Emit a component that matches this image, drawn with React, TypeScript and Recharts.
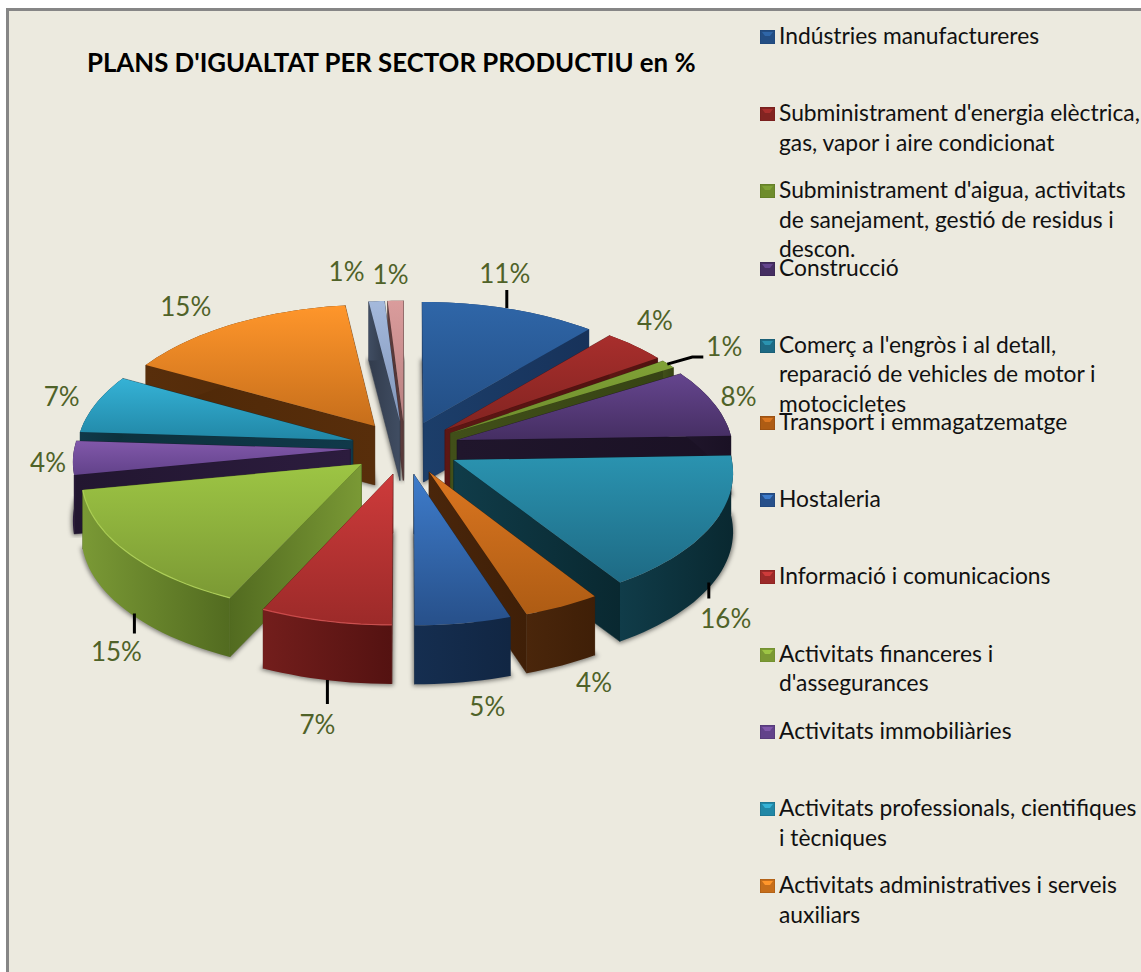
import { Legend, Pie, PieChart } from "recharts";

// ── Data ────────────────────────────────────────────────────────────────

const sectorNames = [
  "Indústries manufactureres",
  "Subministrament d'energia elèctrica, gas, vapor i aire condicionat",
  "Subministrament d'aigua, activitats de sanejament, gestió de residus i descon.",
  "Construcció",
  "Comerç a l'engròs i al detall, reparació de vehicles de motor i motocicletes",
  "Transport i emmagatzematge",
  "Hostaleria",
  "Informació i comunicacions",
  "Activitats financeres i d'assegurances",
  "Activitats immobiliàries",
  "Activitats professionals, científiques i tècniques",
  "Activitats administratives i serveis auxiliars",
  "Altres serveis",
  "Altres activitats",
];

const sectorValues = [11, 4, 1, 8, 16, 4, 5, 7, 15, 4, 7, 15, 1, 1];

// wrapped the way the legend shows them; the last two sectors have no legend row
const legendLines = [
  ["Indústries manufactureres"],
  ["Subministrament d'energia elèctrica,", "gas, vapor i aire condicionat"],
  ["Subministrament d'aigua, activitats", "de sanejament, gestió de residus i", "descon."],
  ["Construcció"],
  ["Comerç a l'engròs i al detall,", "reparació de vehicles de motor i", "motocicletes"],
  ["Transport i emmagatzematge"],
  ["Hostaleria"],
  ["Informació i comunicacions"],
  ["Activitats financeres i", "d'assegurances"],
  ["Activitats immobiliàries"],
  ["Activitats professionals, cientifiques", "i tècniques"],
  ["Activitats administratives i serveis", "auxiliars"],
];

// ── Slice styling ───────────────────────────────────────────────────────

const topLight = ["#2F66A8", "#A82E2C", "#80A236", "#65458E", "#2A93B0", "#DB7620", "#3E7CCB", "#CE3B3B", "#9DC544", "#8158AA", "#35B2D6", "#FF962B", "#A4B9DC", "#DA9C9C"];
const topDark = ["#234E84", "#822421", "#6E8C2C", "#452E62", "#1E6A84", "#AE5C14", "#27508A", "#9C2A29", "#7B9934", "#62428A", "#2187A6", "#C66E1B", "#8296BA", "#B88080"];
const wallLight = ["#1C3E6A", "#5E1714", "#414F19", "#20162C", "#103C49", "#4A260B", "#152E50", "#731E1C", "#7A9935", "#2C1C3E", "#10394A", "#582E0B", "#404D62", "#5E3D3D"];
const wallDark = ["#17325A", "#4E110F", "#364314", "#1A1124", "#092830", "#3F1F07", "#112643", "#541211", "#526B20", "#221630", "#0C303B", "#4E2807", "#323C4D", "#4C3030"];
const rimColors = ["", "", "", "", "", "", "", "#DB5555", "#B6DA5C", "", "", "", "", ""];

// ── Label placement, relative to the middle of each slice's rim ─────────

const labelNudge = [
  [-5, -36], [20, -26], [56, -18], [25, -7], [14, 92], [32, 76], [24, 83],
  [-8, 103], [-11, 99], [-25, 4], [-34, -8], [-47, -18], [-30, -30], [-5, -27],
];

const leaderLines: Record<number, number[][]> = {
  0: [[-3, -1], [-3, -19]],
  2: [[-1, 0], [24, -7], [35, -7]],
  4: [[-3, 57], [-3, 73]],
  7: [[2, 59], [2, 83]],
  8: [[7, 61], [7, 81]],
};

// ── 3D projection of the exploded disk ──────────────────────────────────

const CX = 405;
const CY = 447.6;
const RADIUS = 276;
const TILT = 0.487;
const PERSPECTIVE = 0.08;
const EXPLODE = 0.198;
const DEPTH = 59;

const rad = (deg: number) => (deg * Math.PI) / 180;

// disk coordinates: u to the right, v towards the viewer, z straight down
function project(cx: number, cy: number, rx: number, u: number, v: number, z = 0) {
  const w = 1 - PERSPECTIVE * v;
  return { x: cx + (rx * u) / w, y: cy + (rx * TILT * v) / w + z };
}

function slicePoint(cx: number, cy: number, rx: number, mid: number, angle: number, reach: number, z = 0) {
  const u = EXPLODE * Math.cos(rad(mid)) + reach * Math.cos(rad(angle));
  const v = -EXPLODE * Math.sin(rad(mid)) - reach * Math.sin(rad(angle));
  return project(cx, cy, rx, u, v, z);
}

type Pt = { x: number; y: number };
const toPath = (pts: Pt[]) => "M" + pts.map((p) => `${p.x.toFixed(1)},${p.y.toFixed(1)}`).join("L") + "Z";
const toLine = (pts: Pt[]) => "M" + pts.map((p) => `${p.x.toFixed(1)},${p.y.toFixed(1)}`).join("L");

function Slice3D(props: any) {
  const { cx, cy, outerRadius, startAngle, endAngle, payload } = props;
  const i = payload.index as number;
  const mid = (startAngle + endAngle) / 2;
  const steps = Math.max(4, Math.ceil(Math.abs(endAngle - startAngle) / 2));

  const rim = (z: number) => {
    const pts: Pt[] = [];
    for (let s = 0; s <= steps; s++) {
      const a = startAngle + ((endAngle - startAngle) * s) / steps;
      pts.push(slicePoint(cx, cy, outerRadius, mid, a, 1, z));
    }
    return pts;
  };
  const apex = (z: number) => slicePoint(cx, cy, outerRadius, mid, mid, 0, z);

  const topRim = rim(0);
  const lowRim = rim(DEPTH);
  const first = [apex(0), topRim[0], lowRim[0], apex(DEPTH)];
  const last = [apex(0), topRim[steps], lowRim[steps], apex(DEPTH)];
  // paint the radial face further back first
  const radial = topRim[0].y < topRim[steps].y ? [first, last] : [last, first];

  return (
    <g>
      <path d={toPath([apex(DEPTH), ...lowRim])} fill="#000" fillOpacity={0.35} stroke="#000" strokeOpacity={0.35} strokeWidth={4} filter="url(#sliceShadow)" />
      {radial.map((face, f) => (
        // the rim corner stays the dark end of a face that runs left from the centre
        <path key={f} d={toPath(face)} fill={face[1].x < face[0].x ? `url(#wallBack${i})` : `url(#wall${i})`} stroke={wallDark[i]} strokeWidth={0.5} />
      ))}
      <path d={toPath([...topRim, ...[...lowRim].reverse()])} fill={`url(#wall${i})`} />
      <path d={toPath([apex(0), ...topRim])} fill={`url(#top${i})`} />
      {rimColors[i] && <path d={toLine(topRim)} fill="none" stroke={rimColors[i]} strokeOpacity={0.8} strokeWidth={1.2} />}
    </g>
  );
}

function SliceLabel(props: any) {
  const { cx, cy, outerRadius, startAngle, endAngle, payload } = props;
  const i = payload.index as number;
  const mid = (startAngle + endAngle) / 2;
  const anchor = slicePoint(cx, cy, outerRadius, mid, mid, 1);
  const leader = leaderLines[i];
  return (
    <g>
      {leader && (
        <path
          d={toLine(leader.map(([dx, dy]) => ({ x: anchor.x + dx, y: anchor.y + dy })))}
          fill="none"
          stroke="#000"
          strokeWidth={3}
        />
      )}
      <text
        x={anchor.x + labelNudge[i][0]}
        y={anchor.y + labelNudge[i][1]}
        textAnchor="middle"
        dominantBaseline="central"
        fontFamily="Lato, sans-serif"
        fontSize={26}
        fill="#4F6228"
      >
        {payload.value}%
      </text>
    </g>
  );
}

const sliceRows = sectorNames.map((name, index) => ({ name, value: sectorValues[index], index }));
// each half of the disk takes half a turn: sectors 1-7 on the right, 8-14 on the left
const rightRows = sliceRows.slice(0, 7);
const leftRowsBack = sliceRows.slice(7).reverse();

// painted back to front: right side clockwise, left side counter-clockwise, then the front pair
const backRightShape = (props: any) => (props.payload.index <= 4 ? <Slice3D {...props} /> : <g />);
const frontRightShape = (props: any) => (props.payload.index > 4 ? <Slice3D {...props} /> : <g />);
const leftShape = (props: any) => <Slice3D {...props} />;
const renderLabel = (props: any) => <SliceLabel {...props} />;

function SectorLegend() {
  return (
    <div style={{ position: "relative", fontFamily: "Lato, sans-serif", fontSize: 22.8, color: "#111" }}>
      {legendLines.map((lines, i) => (
        <div key={i} style={{ position: "absolute", top: i * 77.2, left: 0, width: 381, height: 77.2 }}>
          <svg width={15} height={14} style={{ position: "absolute", left: 0, top: 9 }}>
            <rect x={0} y={0} width={15} height={14} fill={topDark[i]} stroke={wallDark[i]} strokeOpacity={0.3} />
            <path d="M2,2L13,2L10,6L5,6Z" fill={topLight[i]} />
          </svg>
          <div style={{ position: "absolute", left: 19, top: 0, lineHeight: "29.5px", whiteSpace: "nowrap" }}>
            {lines.map((line) => (
              <div key={line}>{line}</div>
            ))}
          </div>
        </div>
      ))}
    </div>
  );
}

export default function App() {
  return (
    <div style={{ position: "absolute", left: 0, top: 0, width: 1141, height: 972, overflow: "hidden", background: "#fff" }}>
      <div
        style={{
          position: "absolute",
          left: 6,
          top: 8,
          right: 0,
          bottom: 0,
          background: "#ECEADF",
          borderLeft: "3px solid #868686",
          borderTop: "3px solid #868686",
        }}
      />
      <div style={{ position: "absolute", left: 0, top: 0 }}>
        <PieChart width={1141} height={972} margin={{ top: 0, right: 0, bottom: 0, left: 0 }}>
          <defs>
            <filter id="sliceShadow" x="-10%" y="-10%" width="120%" height="120%">
              <feGaussianBlur stdDeviation={2} />
            </filter>
            {sectorValues.map((_, i) => (
              <linearGradient key={`top${i}`} id={`top${i}`} x1="0" y1="0" x2="0" y2="1">
                <stop offset="0%" stopColor={topLight[i]} />
                <stop offset="100%" stopColor={topDark[i]} />
              </linearGradient>
            ))}
            {sectorValues.map((_, i) => (
              <linearGradient key={`wall${i}`} id={`wall${i}`} x1="0" y1="0" x2="1" y2="0">
                <stop offset="0%" stopColor={wallLight[i]} />
                <stop offset="100%" stopColor={wallDark[i]} />
              </linearGradient>
            ))}
            {sectorValues.map((_, i) => (
              <linearGradient key={`wallBack${i}`} id={`wallBack${i}`} x1="0" y1="0" x2="1" y2="0">
                <stop offset="0%" stopColor={wallDark[i]} />
                <stop offset="100%" stopColor={wallLight[i]} />
              </linearGradient>
            ))}
          </defs>
          <text
            x={87}
            y={62}
            dominantBaseline="central"
            fontFamily="Lato, sans-serif"
            fontWeight={700}
            fontSize={25.8}
            fill="#000"
          >
            PLANS D'IGUALTAT PER SECTOR PRODUCTIU en %
          </text>
          <Pie
            data={rightRows}
            dataKey="value"
            nameKey="name"
            cx={CX}
            cy={CY}
            outerRadius={RADIUS}
            startAngle={90}
            endAngle={-90}
            stroke="none"
            shape={backRightShape}
            label={renderLabel}
            labelLine={false}
            isAnimationActive={false}
          />
          <Pie
            data={leftRowsBack}
            dataKey="value"
            nameKey="name"
            cx={CX}
            cy={CY}
            outerRadius={RADIUS}
            startAngle={90}
            endAngle={270}
            stroke="none"
            shape={leftShape}
            label={renderLabel}
            labelLine={false}
            isAnimationActive={false}
          />
          <Pie
            data={rightRows}
            dataKey="value"
            nameKey="name"
            cx={CX}
            cy={CY}
            outerRadius={RADIUS}
            startAngle={90}
            endAngle={-90}
            stroke="none"
            shape={frontRightShape}
            isAnimationActive={false}
          />
          <Legend
            layout="vertical"
            align="right"
            verticalAlign="top"
            content={() => <SectorLegend />}
            wrapperStyle={{ left: 760, top: 21, width: 381, height: 930 }}
          />
        </PieChart>
      </div>
    </div>
  );
}
